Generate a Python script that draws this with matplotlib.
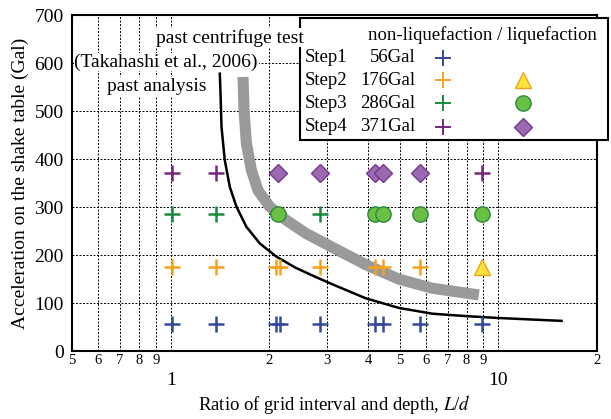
import matplotlib
matplotlib.use("Agg")
import matplotlib.pyplot as plt
from matplotlib.lines import Line2D
from matplotlib.patches import Rectangle

plt.rcParams['font.family'] = ['Liberation Serif', 'DejaVu Serif']
plt.rcParams['mathtext.fontset'] = 'stix'

# shaking steps (Gal)
step_gal = [56, 176, 286, 371]
step_names = ["Step1", "Step2", "Step3", "Step4"]
step_gal_text = ["56Gal", "176Gal", "286Gal", "371Gal"]

# L/d of each model, per step
nonliq_x = [
    [1.01, 1.37, 2.10, 2.15, 2.86, 4.20, 4.45, 5.75, 8.9],
    [1.01, 1.37, 2.10, 2.15, 2.86, 4.20, 4.45, 5.75],
    [1.01, 1.37, 2.86],
    [1.01, 1.37, 8.9],
]
liq_x = [
    [],
    [8.9],
    [2.12, 4.20, 4.45, 5.75, 8.9],
    [2.12, 2.86, 4.20, 4.45, 5.75],
]

# past analysis boundary
analysis_x = [1.412, 1.419, 1.429, 1.462, 1.515, 1.587, 1.702, 1.872, 2.10, 2.4, 2.78,
              3.12, 3.94, 4.97, 6.28, 7.93, 10.0, 15.6]
analysis_y = [578, 537, 467, 398, 342, 301, 259, 224, 197, 174, 154,
              139, 110, 90, 78, 73, 69, 63]

# past centrifuge test boundary
centrifuge_x = [1.662, 1.674, 1.702, 1.763, 1.847, 2.004, 2.25, 2.59, 3.08, 3.94, 4.97, 6.28, 8.72]
centrifuge_y = [571, 502, 433, 377, 335, 301, 273, 245, 218, 180, 150, 131, 117]

minor_ticks = [0.5, 0.6, 0.7, 0.8, 0.9, 2, 3, 4, 5, 6, 7, 8, 9, 20]
minor_labels = ["5", "6", "7", "8", "9", "2", "3", "4", "5", "6", "7", "8", "9", "2"]
major_ticks = [1, 10]
major_labels = ["1", "10"]
grid_x = [0.6, 0.7, 0.8, 0.9, 1, 2, 3, 4, 5, 6, 7, 8, 9, 10]

plus_colors = ["#34499c", "#f7a21e", "#1a8a3c", "#74287c"]
liq_style = [
    None,
    dict(marker="^", mfc="#f8e43a", mec="#f2a11f", ms=12),
    dict(marker="o", mfc="#6bbf45", mec="#2a8a3a", ms=11),
    dict(marker="D", mfc="#9b69b1", mec="#74398c", ms=9),
]

fig = plt.figure(figsize=(6.11, 4.19), dpi=100)
ax = fig.add_axes([0.118, 0.162, 0.859, 0.802])

ax.set_xscale("log")
ax.set_xlim(0.5, 20)
ax.set_ylim(0, 700)

grid_kw = dict(color="black", lw=0.7, ls=(0, (2, 1.6)), zorder=1)
for gx in grid_x:
    ax.axvline(gx, **grid_kw)
for gy in range(100, 700, 100):
    ax.axhline(gy, **grid_kw)

ax.plot(centrifuge_x, centrifuge_y, color="#9a9a9a", lw=8, solid_capstyle="butt",
        solid_joinstyle="round", zorder=2)
ax.plot(analysis_x, analysis_y, color="black", lw=1.8, solid_joinstyle="round", zorder=3)

for i, g in enumerate(step_gal):
    ax.plot(nonliq_x[i], [g] * len(nonliq_x[i]), ls="none", marker="+", ms=12, mew=1.8,
            color=plus_colors[i], zorder=4)
    if liq_x[i]:
        ax.plot(liq_x[i], [g] * len(liq_x[i]), ls="none", mew=1.0, zorder=5, **liq_style[i])

ax.set_xticks(major_ticks)
ax.set_xticklabels(major_labels, fontsize=14)
ax.set_xticks(minor_ticks, minor=True)
ax.set_xticklabels(minor_labels, minor=True, fontsize=10.5)
ax.tick_params(axis="x", which="major", length=0, pad=15)
ax.tick_params(axis="x", which="minor", length=0, pad=2)
ax.set_yticks(range(0, 701, 100))
ax.tick_params(axis="y", length=0, pad=6, labelsize=14)

for s in ax.spines.values():
    s.set_linewidth(1.5)

ax.set_xlabel("Ratio of grid interval and depth, $L$/$d$", fontsize=13.5, labelpad=3)
ax.set_ylabel("Acceleration on the shake table (Gal)", fontsize=14, labelpad=4)

# legend drawn by hand
leg = Rectangle((0.491, 0.666), 0.504, 0.29, transform=fig.transFigure, facecolor="white",
                edgecolor="black", lw=1.5, zorder=10, clip_on=False)
fig.add_artist(leg)
fig.text(0.789, 0.916, "non-liquefaction / liquefaction", ha="center", va="center",
         fontsize=13.5, zorder=11)
row_y = [0.862, 0.808, 0.753, 0.697]
for i in range(4):
    fig.text(0.498, row_y[i], step_names[i], ha="left", va="center", fontsize=13.5, zorder=11)
    fig.text(0.680, row_y[i], step_gal_text[i], ha="right", va="center", fontsize=13.5, zorder=11)
    fig.add_artist(Line2D([0.725], [row_y[i]], transform=fig.transFigure, marker="+", ms=12,
                          mew=1.4, color=plus_colors[i], ls="none", zorder=11))
    if liq_style[i]:
        fig.add_artist(Line2D([0.856], [row_y[i]], transform=fig.transFigure, ls="none",
                              mew=1.0, zorder=11, **liq_style[i]))

# curve annotations, on top of the legend box
box = dict(facecolor="white", edgecolor="none", pad=0.5)
fig.text(0.376, 0.91, "past centrifuge test", ha="center", va="center", fontsize=14,
         bbox=box, zorder=12)
fig.text(0.272, 0.852, "(Takahashi et al., 2006)", ha="center", va="center", fontsize=14,
         bbox=box, zorder=12)
fig.text(0.256, 0.793, "past analysis", ha="center", va="center", fontsize=14,
         bbox=box, zorder=12)

fig.savefig("out.png", dpi=100)
